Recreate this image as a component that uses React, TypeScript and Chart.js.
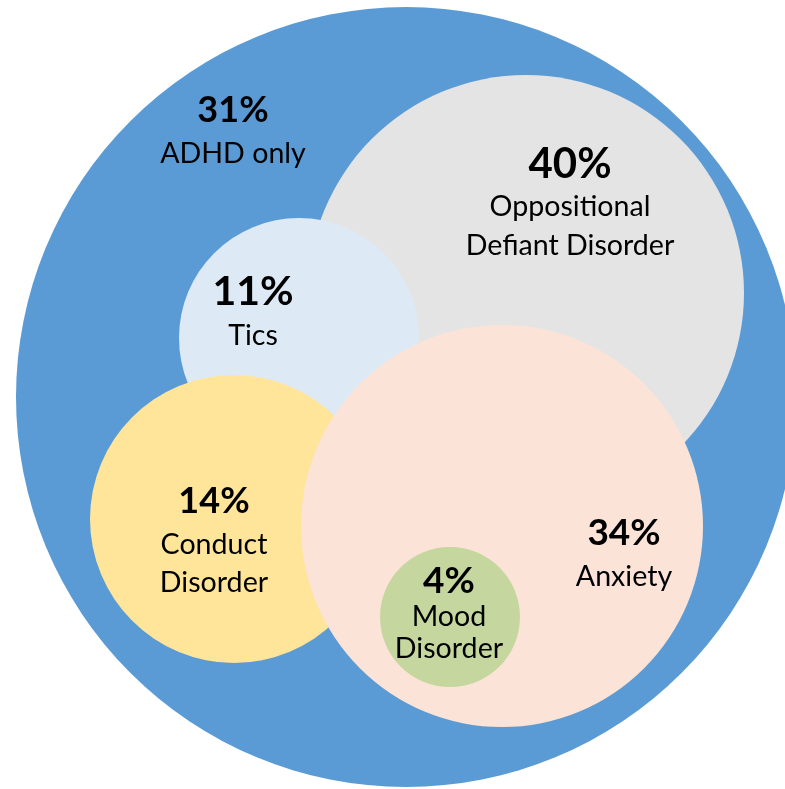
import React, { useEffect, useRef } from "react";
import { Chart, registerables } from "chart.js";

Chart.register(...registerables);

// Comorbidities among children with ADHD
const groups = [
  "ADHD only",
  "Oppositional Defiant Disorder",
  "Tics",
  "Conduct Disorder",
  "Anxiety",
  "Mood Disorder",
];
const percents = [31, 40, 11, 14, 34, 4];

// Bubble centres and radii on a 785 x 789 grid
const centerX = [406, 526, 299, 234, 502, 450];
const centerY = [397, 293, 338, 519, 526, 617];
const radii = [390, 218, 120, 144, 201, 70];

// Wrapped name lines drawn under each percentage
const nameLines = [
  ["ADHD only"],
  ["Oppositional", "Defiant Disorder"],
  ["Tics"],
  ["Conduct", "Disorder"],
  ["Anxiety"],
  ["Mood", "Disorder"],
];

// Label layout: centre x, then baselines (percentage first, then name lines)
const labelX = [233, 570, 253, 214, 624, 449];
const labelBaselines = [
  [122, 163],
  [178, 216, 255],
  [305, 345],
  [513, 554, 592],
  [545, 586],
  [593, 626, 658],
];
const percentFontSize = [36, 42, 41, 36, 37, 37];
const nameFontSize = 28.6;

const fills = ["#5B9BD5", "#E4E4E4", "#DDEAF6", "#FFE599", "#FBE4D7", "#C5D79F"];

const bubbleLabels = {
  id: "bubbleLabels",
  afterDatasetsDraw(chart: any) {
    const { ctx, scales } = chart;
    ctx.save();
    ctx.fillStyle = "#000000";
    ctx.textAlign = "center";
    ctx.textBaseline = "alphabetic";
    groups.forEach((_, i) => {
      const x = scales.x.getPixelForValue(labelX[i]);
      const ys = labelBaselines[i].map((v: number) => scales.y.getPixelForValue(v));
      ctx.font = `bold ${percentFontSize[i]}px Lato, "Noto Sans", sans-serif`;
      ctx.fillText(`${percents[i]}%`, x, ys[0]);
      ctx.font = `normal ${nameFontSize}px Lato, "Noto Sans", sans-serif`;
      nameLines[i].forEach((line, j) => ctx.fillText(line, x, ys[j + 1]));
    });
    ctx.restore();
  },
};

export default function App() {
  const canvasRef = useRef<HTMLCanvasElement | null>(null);

  useEffect(() => {
    if (!canvasRef.current) return;
    const chart = new Chart(canvasRef.current, {
      type: "bubble",
      data: {
        datasets: [
          {
            label: "Comorbidity",
            data: groups.map((_, i) => ({ x: centerX[i], y: centerY[i], r: radii[i] })),
            backgroundColor: fills,
            borderWidth: 0,
            hoverBorderWidth: 0,
            hoverRadius: 0,
            clip: false as any,
          },
        ],
      },
      options: {
        animation: false,
        responsive: true,
        maintainAspectRatio: false,
        events: [],
        layout: { padding: 0, autoPadding: false },
        plugins: { legend: { display: false }, tooltip: { enabled: false } },
        scales: {
          x: { type: "linear", min: 0, max: 785, display: false },
          y: { type: "linear", min: 0, max: 789, reverse: true, display: false },
        },
      },
      plugins: [bubbleLabels],
    });
    return () => chart.destroy();
  }, []);

  return (
    <div style={{ position: "absolute", left: 0, top: 0, width: 785, height: 789, background: "#ffffff" }}>
      <canvas ref={canvasRef} />
    </div>
  );
}
